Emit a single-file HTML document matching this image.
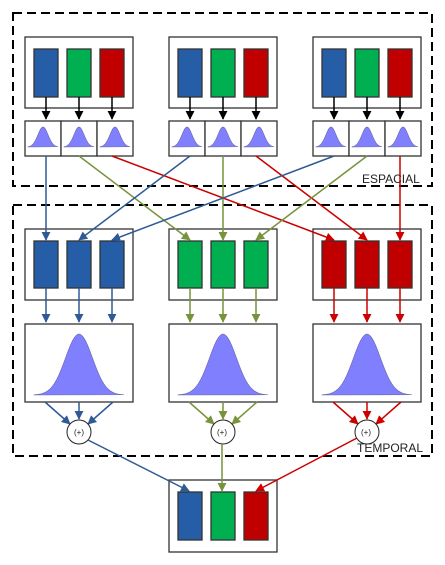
<!DOCTYPE html>
<html><head><meta charset="utf-8"><style>html,body{margin:0;padding:0;background:#fff}svg{display:block}</style></head>
<body>
<svg id="s" width="445" height="565" viewBox="0 0 445 565" xmlns="http://www.w3.org/2000/svg">
<defs>
<marker id="mk" viewBox="0 0 10 10" refX="9" refY="5" markerWidth="6" markerHeight="6" orient="auto"><path d="M0,0L10,5L0,10z" fill="#000"/></marker>
<marker id="mb" viewBox="0 0 10 10" refX="9" refY="5" markerWidth="6" markerHeight="6" orient="auto"><path d="M0,0L10,5L0,10z" fill="#2f5a95"/></marker>
<marker id="mg" viewBox="0 0 10 10" refX="9" refY="5" markerWidth="6" markerHeight="6" orient="auto"><path d="M0,0L10,5L0,10z" fill="#77933c"/></marker>
<marker id="mr" viewBox="0 0 10 10" refX="9" refY="5" markerWidth="6" markerHeight="6" orient="auto"><path d="M0,0L10,5L0,10z" fill="#cc0000"/></marker>
</defs>
<rect x="13" y="13" width="419" height="173" fill="none" stroke="#000" stroke-width="2" stroke-dasharray="9,5"/>
<rect x="13" y="205" width="419" height="251" fill="none" stroke="#000" stroke-width="2" stroke-dasharray="9,5"/>
<g id="g"></g>
<text x="362" y="183" font-family="Liberation Sans, sans-serif" font-size="12" fill="#222">ESPACIAL</text>
<text x="357" y="452" font-family="Liberation Sans, sans-serif" font-size="12" fill="#222">TEMPORAL</text>
<text x="79" y="435" text-anchor="middle" font-family="Liberation Sans, sans-serif" font-size="8" fill="#222">(+)</text>
<text x="222" y="435" text-anchor="middle" font-family="Liberation Sans, sans-serif" font-size="8" fill="#222">(+)</text>
<text x="366" y="435" text-anchor="middle" font-family="Liberation Sans, sans-serif" font-size="8" fill="#222">(+)</text>
</svg>
<script>
var g=document.getElementById('g'),h='';
var C=['#255ea6','#00b050','#c00000'],L=['#2f5a95','#77933c','#cc0000'],M=['mb','mg','mr'];
function rect(x,y,w,hh,f,sw){h+='<rect x="'+x+'" y="'+y+'" width="'+w+'" height="'+hh+'" fill="'+f+'" stroke="#333" stroke-width="'+(sw||1.3)+'"/>';}
function line(x1,y1,x2,y2,c,m){h+='<line x1="'+x1+'" y1="'+y1+'" x2="'+x2+'" y2="'+y2+'" stroke="'+c+'" stroke-width="1.5" marker-end="url(#'+m+')"/>';}
function gauss(x0,x1,yb,yt,s){var p='M'+x0+','+yb,n=40;for(var i=0;i<=n;i++){var t=i/n,x=x0+(x1-x0)*t,u=(t-0.5)/s;p+=' L'+x.toFixed(2)+','+(yb-(yb-yt)*Math.exp(-u*u/2)).toFixed(2);}p+='Z';h+='<path d="'+p+'" fill="#8080ff" stroke="#6666aa" stroke-width="0.6"/>';}
var bx=[34,67,100];
for(var k=0;k<3;k++){var o=k*144;
 rect(25+o,37,108,71,'#fff');
 for(var j=0;j<3;j++){rect(bx[j]+o,49,24,48,C[j]);}
 for(var j=0;j<3;j++){rect(25+o+j*36,121,36,35,'#fff');gauss(28+o+j*36,58+o+j*36,147,127,0.17);line(46+o+j*33,97,46+o+j*33,119,'#000','mk');}
 rect(25+o,229,108,71,'#fff');
 for(var j=0;j<3;j++){rect(bx[j]+o,241,24,47,C[k]);line(46+o+j*33,288,46+o+j*33,322,L[k],M[k]);}
 rect(25+o,324,108,78,'#fff');gauss(34+o,124+o,395,334,0.15);
 var cx=79+o;
 line(45+o,402,cx-9,424,L[k],M[k]);line(cx,402,cx,419,L[k],M[k]);line(113+o,402,cx+9,424,L[k],M[k]);
 h+='<circle cx="'+cx+'" cy="432" r="12" fill="#fff" stroke="#222" stroke-width="1"/>';
}
for(var k=0;k<3;k++)for(var j=0;j<3;j++){var sx=46+k*144+j*33,tx=46+j*144+k*33;line(sx,156,tx,240,L[j],M[j]);}
rect(169,480,108,72,'#fff');
for(var j=0;j<3;j++)rect(bx[j]+144,492,24,48,C[j]);
line(88,440,189,491,L[0],M[0]);line(222,444,222,491,L[1],M[1]);line(357,438,256,491,L[2],M[2]);
g.innerHTML=h;
</script>
</body></html>
